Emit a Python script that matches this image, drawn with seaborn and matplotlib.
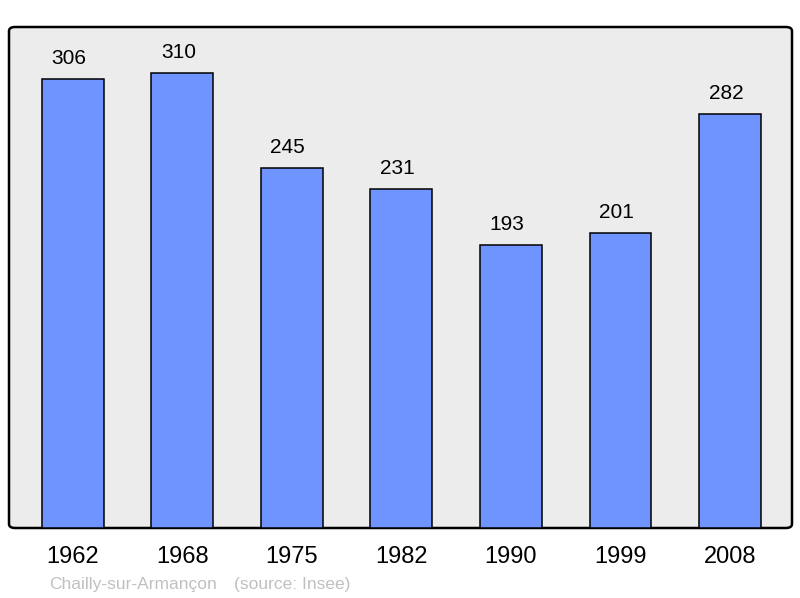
import matplotlib
matplotlib.use("Agg")
import matplotlib.pyplot as plt
import seaborn as sns
import pandas as pd
from matplotlib.patches import FancyBboxPatch

years = ["1962", "1968", "1975", "1982", "1990", "1999", "2008"]
population = [306, 310, 245, 231, 193, 201, 282]
commune = "Chailly-sur-Armançon"
source = "(source: Insee)"

sns.set_theme(style="white")
plt.rcParams['font.family'] = ['Liberation Sans', 'DejaVu Sans']

df = pd.DataFrame({"year": years, "pop": population})

fig = plt.figure(figsize=(8, 5.98), dpi=100)
W, H = 800, 598
ax = fig.add_axes([9 / W, 1 - 528 / H, (792 - 9) / W, (528 - 27) / H])
ax.set_facecolor("none")

# rounded background box
bg = FancyBboxPatch((0, 0), 1, 1,
                    boxstyle="round,pad=0,rounding_size=0.008",
                    transform=ax.transAxes, facecolor="#ececec",
                    edgecolor="black", linewidth=1.8, zorder=0, clip_on=False)
ax.add_patch(bg)

sns.barplot(data=df, x="year", y="pop", color="#7094ff", edgecolor="black",
            linewidth=1.1, width=0.566, saturation=1, ax=ax, zorder=2)

ax.set_xlim(-0.584, 6.566)
ax.set_ylim(0, 341.3)
for s in ax.spines.values():
    s.set_visible(False)
ax.set_yticks([])
ax.set_xlabel("")
ax.set_ylabel("")
ax.tick_params(axis="x", length=0, labelsize=17, pad=13, colors="black")

for i, v in enumerate(population):
    ax.annotate(str(v), (i, v), xytext=(-3, 8), textcoords="offset points",
                ha="center", va="bottom", fontsize=15, color="black")

fig.text(49 / W, 1 - 584 / H, commune, fontsize=12.5, color="#c0c0c0",
         ha="left", va="center")
fig.text(234 / W, 1 - 584 / H, source, fontsize=12.5, color="#c0c0c0",
         ha="left", va="center")

fig.savefig("out.png", dpi=100)
